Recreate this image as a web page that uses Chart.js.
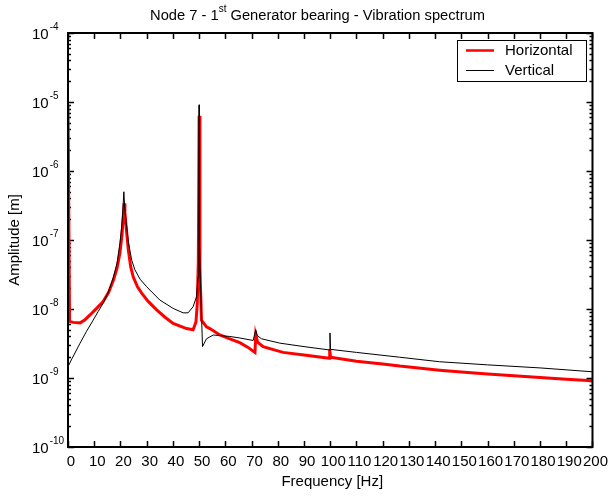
<!DOCTYPE html>
<html><head><meta charset="utf-8">
<script src="https://cdn.jsdelivr.net/npm/chart.js@4"></script>
<style>html,body{margin:0;padding:0;background:#fff}</style>
</head><body>
<canvas id="c" width="611" height="499"></canvas>
<script>
const chartTitle = ["Node 7 - 1", "st", " Generator bearing - Vibration spectrum"];
const xAxisTitle = "Frequency [Hz]";
const yAxisTitle = "Amplitude [m]";
const seriesNames = ["Horizontal", "Vertical"];
const xTickValues = [0,10,20,30,40,50,60,70,80,90,100,110,120,130,140,150,160,170,180,190,200];
const yDecadeExponents = [-10,-9,-8,-7,-6,-5,-4];

const horizFreq = [0,0.6,2,4.6,6.5,8.4,11,13.4,15.5,17.3,18.7,19.8,20.6,21.1,21.4,21.7,22.2,23.0,23.9,24.9,26.5,28.1,30.5,33.8,37,40.1,43,45.2,47.7,48.8,49.3,49.7,50.0,50.3,50.9,52.8,54.1,57.9,61.7,65.5,68.5,71.3,71.6,72.3,74.4,78,82,90,99.6,99.8,100.1,110,120,126.5,141.7,150,160,170,180,190,200];
const horizAmp = [9.1e-6,6.6e-9,6.4e-9,6.3e-9,7.0e-9,8.2e-9,1.03e-8,1.28e-8,1.75e-8,2.6e-8,3.9e-8,6.5e-8,1.2e-7,2.2e-7,3.4e-7,2.5e-7,1.5e-7,7.2e-8,4.1e-8,2.9e-8,2.1e-8,1.7e-8,1.3e-8,9.7e-9,7.6e-9,6.2e-9,5.6e-9,5.2e-9,5.0e-9,6.5e-9,1.2e-8,5e-8,6.3e-6,4e-8,6.9e-9,5.5e-9,5.2e-9,4.2e-9,3.7e-9,3.25e-9,2.8e-9,2.35e-9,4.2e-9,3.3e-9,2.85e-9,2.6e-9,2.35e-9,2.15e-9,1.93e-9,2.6e-9,2.0e-9,1.75e-9,1.6e-9,1.49e-9,1.3e-9,1.22e-9,1.14e-9,1.08e-9,1.02e-9,9.6e-10,9.1e-10];

const vertFreq = [0,1.5,4.6,7,9.6,11.5,13.4,15.5,17.3,18.7,19.8,20.5,20.9,21.3,21.7,22.4,23.0,24.3,25.5,27.5,30,35,40.1,43.9,45.8,47.7,49.0,49.6,49.9,50.0,50.1,50.5,51.3,52.8,55.4,61.7,65.5,70.6,71.6,72.2,73.8,80.8,90,99.7,99.9,100.1,110,126.5,141.7,160,180,200];
const vertAmp = [1.46e-9,1.9e-9,3.2e-9,4.7e-9,6.9e-9,9.2e-9,1.21e-8,1.8e-8,2.9e-8,4.6e-8,9e-8,1.6e-7,2.6e-7,5e-7,2.6e-7,1.56e-7,9.4e-8,5.1e-8,3.7e-8,2.7e-8,2.1e-8,1.35e-8,1.02e-8,8.8e-9,8.8e-9,1.08e-8,1.5e-8,2.9e-8,1e-7,9.1e-6,1e-7,2.4e-8,2.85e-9,3.7e-9,4.2e-9,4.0e-9,3.8e-9,3.5e-9,5e-9,4.1e-9,3.7e-9,3.2e-9,2.85e-9,2.55e-9,4.5e-9,2.6e-9,2.35e-9,2.0e-9,1.72e-9,1.55e-9,1.4e-9,1.23e-9];

const FONT = "'Liberation Sans', Arial, sans-serif";
const toPts = (xs, ys) => xs.map((x, i) => ({x: x, y: ys[i]}));

const decor = {
  id: 'decor',
  beforeDatasetsDraw(chart) {
    const ctx = chart.ctx, a = chart.chartArea;
    const xs = chart.scales.x, ys = chart.scales.y;
    ctx.save();
    ctx.strokeStyle = '#000';
    ctx.lineWidth = 1.5;
    ctx.beginPath();
    xTickValues.forEach(v => {
      const px = Math.round(xs.getPixelForValue(v)) + 0.5;
      ctx.moveTo(px, a.bottom); ctx.lineTo(px, a.bottom - 6);
      ctx.moveTo(px, a.top); ctx.lineTo(px, a.top + 6);
    });
    yDecadeExponents.forEach(d => {
      for (let m = 1; m <= 9; m++) {
        if (d === -4 && m > 1) break;
        const py = Math.round(ys.getPixelForValue(m * Math.pow(10, d))) + 0.5;
        const len = m === 1 ? 6 : 3;
        ctx.moveTo(a.left, py); ctx.lineTo(a.left + len, py);
        ctx.moveTo(a.right, py); ctx.lineTo(a.right - len, py);
      }
    });
    ctx.stroke();
    ctx.restore();
  },
  afterDraw(chart) {
    const ctx = chart.ctx, a = chart.chartArea;
    const ys = chart.scales.y;
    ctx.save();
    ctx.strokeStyle = '#000';
    ctx.lineWidth = 2;
    ctx.strokeRect(a.left, a.top, a.right - a.left, a.bottom - a.top);
    ctx.fillStyle = '#000';
    ctx.textBaseline = 'alphabetic';
    ctx.textAlign = 'left';
    yDecadeExponents.forEach(d => {
      const py = ys.getPixelForValue(Math.pow(10, d));
      ctx.font = '15px ' + FONT;
      ctx.fillText('10', 32, py + 6);
      const w = ctx.measureText('10').width;
      ctx.font = '10px ' + FONT;
      ctx.fillText(String(d), 32 + w + 1, py - 3);
    });
    const TF = '14.7px ' + FONT, SF = '10px ' + FONT;
    ctx.font = TF;
    const w1 = ctx.measureText(chartTitle[0]).width;
    const w3 = ctx.measureText(chartTitle[2]).width;
    ctx.font = SF;
    const w2 = ctx.measureText(chartTitle[1]).width;
    const total = w1 + w2 + w3;
    let tx = 317.5 - total / 2;
    ctx.font = TF;
    ctx.fillText(chartTitle[0], tx, 20);
    ctx.font = SF;
    ctx.fillText(chartTitle[1], tx + w1, 12);
    ctx.font = TF;
    ctx.fillText(chartTitle[2], tx + w1 + w2, 20);
    ctx.font = '15px ' + FONT;
    ctx.textAlign = 'center';
    ctx.textBaseline = 'middle';
    ctx.fillText(xAxisTitle, (a.left + a.right) / 2 + 2, 482);
    ctx.save();
    ctx.translate(15, (a.top + a.bottom) / 2);
    ctx.rotate(-Math.PI / 2);
    ctx.fillText(yAxisTitle, 0, 0);
    ctx.restore();
    ctx.fillStyle = '#fff';
    ctx.fillRect(457.5, 40.5, 129, 41);
    ctx.lineWidth = 1;
    ctx.strokeStyle = '#000';
    ctx.strokeRect(457.5, 40.5, 129, 41);
    const ds = chart.data.datasets;
    [0, 1].forEach(i => {
      const ly = i === 0 ? 50.5 : 70.5;
      ctx.strokeStyle = ds[i].borderColor;
      ctx.lineWidth = i === 0 ? 2.5 : 1;
      ctx.beginPath(); ctx.moveTo(466, ly); ctx.lineTo(494, ly); ctx.stroke();
      ctx.fillStyle = '#000';
      ctx.textAlign = 'left';
      ctx.textBaseline = 'middle';
      ctx.font = '15px ' + FONT;
      ctx.fillText(ds[i].label, 505, ly);
    });
    ctx.restore();
  }
};

new Chart(document.getElementById('c'), {
  type: 'scatter',
  data: {
    datasets: [
      { label: seriesNames[0], data: toPts(horizFreq, horizAmp), showLine: true, borderColor: '#ff0000', backgroundColor: '#ff0000', borderWidth: 3, pointRadius: 0, tension: 0, order: 2 },
      { label: seriesNames[1], data: toPts(vertFreq, vertAmp), showLine: true, borderColor: '#000000', backgroundColor: '#000000', borderWidth: 1, pointRadius: 0, tension: 0, order: 1 }
    ]
  },
  options: {
    responsive: false,
    animation: false,
    devicePixelRatio: 1,
    layout: { padding: { top: 33, right: 18, left: 0, bottom: 0 } },
    plugins: { legend: { display: false }, title: { display: false }, tooltip: { enabled: false } },
    scales: {
      x: {
        type: 'linear', min: 0, max: 200,
        grid: { display: false, drawTicks: false },
        border: { display: false },
        ticks: { stepSize: 10, autoSkip: false, maxRotation: 0, minRotation: 0, color: '#000', font: { family: FONT, size: 15 }, padding: 6, labelOffset: 3 },
        afterFit(s) { s.height = 52; }
      },
      y: {
        type: 'logarithmic', min: 1e-10, max: 1e-4,
        grid: { display: false, drawTicks: false },
        border: { display: false },
        ticks: { display: false },
        afterFit(s) { s.width = 68; }
      }
    }
  },
  plugins: [decor]
});
</script>
</body></html>
